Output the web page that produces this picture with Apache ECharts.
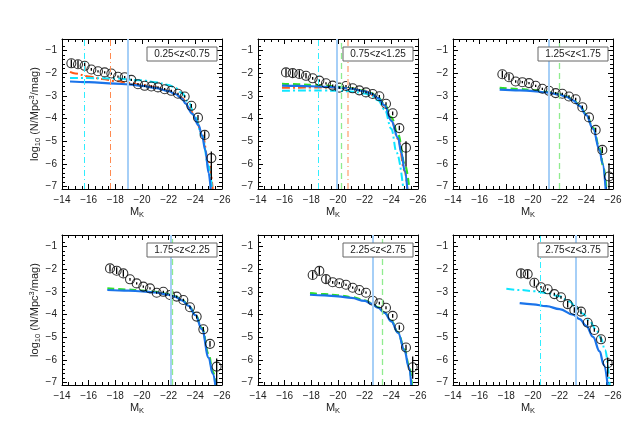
<!DOCTYPE html>
<html>
<head>
<meta charset="utf-8">
<title>K-band luminosity functions</title>
<script src="https://cdn.jsdelivr.net/npm/echarts@6/dist/echarts.min.js"></script>
<style>
  html, body { margin: 0; background: #fff; }
  #main { width: 635px; height: 434px; }
</style>
</head>
<body>
<div id="main"></div>
<script>
// ---- data ----
var xTicks = [-26, -24, -22, -20, -18, -16, -14];
var yTicks = [-7, -6, -5, -4, -3, -2, -1];

// panel 1 : 0.25<z<0.75
var label1 = '0.25<z<0.75';
var mag1 = [-14.7,-15.2,-15.7,-16.2,-16.7,-17.2,-17.7,-18.2,-18.7,-19.2,-19.7,-20.2,-20.7,-21.2,-21.7,-22.2,-22.7,-23.2,-23.7,-24.2,-24.7,-25.2];
var phi1 = [-1.57,-1.61,-1.68,-1.84,-1.92,-1.97,-2.02,-2.16,-2.18,-2.30,-2.49,-2.56,-2.59,-2.63,-2.71,-2.78,-2.91,-3.03,-3.44,-3.96,-4.72,-5.74];
var errUp1 = [0.17,0.17,0.15,0.06,0.05,0.05,0.05,0.05,0.05,0.05,0.05,0.05,0.05,0.05,0.05,0.05,0.05,0.06,0.08,0.12,0.16,0.29];
var errDn1 = [0.17,0.17,0.15,0.06,0.05,0.05,0.05,0.05,0.05,0.05,0.05,0.05,0.05,0.05,0.05,0.05,0.05,0.06,0.08,0.12,0.16,0.96];
var blue1 = [[-14.6,-2.37],[-16,-2.40],[-18,-2.46],[-19,-2.50],[-20,-2.56],[-21,-2.65],[-22,-2.79],[-22.5,-2.92],[-23,-3.12],[-23.25,-3.33],[-23.75,-3.78],[-24.25,-4.30],[-24.5,-4.75],[-24.75,-5.40],[-25,-6.40],[-25.15,-7.1]];
var orange1 = [[-14.6,-1.95],[-15,-2.02],[-16,-2.15],[-17,-2.26],[-18,-2.35],[-19,-2.43],[-20,-2.52],[-21,-2.62],[-22,-2.78],[-22.5,-2.90],[-23,-3.10],[-23.5,-3.45],[-24,-3.98],[-24.5,-4.65],[-25,-5.90],[-25.3,-7.1]];
var cyan1 = [[-14.6,-2.22],[-16,-2.22],[-18,-2.24],[-20,-2.32],[-21,-2.40],[-22,-2.52],[-22.5,-2.65],[-23,-2.88],[-23.5,-3.30],[-24,-3.95],[-24.5,-4.75],[-25,-6.10],[-25.25,-7.1]];
var vBlue1 = -18.9, vOrange1 = -17.6, vCyan1 = -15.7;

// panel 2 : 0.75<z<1.25
var label2 = '0.75<z<1.25';
var mag2 = [-16.1,-16.6,-17.1,-17.6,-18.1,-18.6,-19.1,-19.6,-20.1,-20.6,-21.1,-21.6,-22.1,-22.6,-23.1,-23.6,-24.1,-24.6,-25.1];
var phi2 = [-1.97,-2.00,-2.04,-2.12,-2.23,-2.33,-2.45,-2.55,-2.64,-2.57,-2.67,-2.76,-2.85,-2.92,-3.02,-3.35,-3.77,-4.42,-5.28];
var errUp2 = [0.17,0.17,0.17,0.12,0.06,0.05,0.05,0.05,0.05,0.05,0.05,0.05,0.05,0.05,0.06,0.07,0.08,0.10,0.28];
var errDn2 = [0.17,0.17,0.17,0.12,0.06,0.05,0.05,0.05,0.05,0.05,0.05,0.05,0.05,0.05,0.06,0.07,0.08,0.10,0.84];
var blue2 = [[-15.8,-2.55],[-17,-2.56],[-18,-2.58],[-19,-2.60],[-20,-2.64],[-21,-2.69],[-22,-2.80],[-22.5,-2.90],[-23,-3.10],[-23.5,-3.42],[-24,-4.10],[-24.5,-4.85],[-24.75,-5.50],[-25,-6.30],[-25.2,-7.1]];
var green2 = [[-15.8,-2.47],[-17,-2.49],[-18,-2.52],[-19,-2.55],[-20,-2.60],[-21,-2.67],[-22,-2.78],[-22.5,-2.88],[-23,-3.07],[-23.5,-3.38],[-24,-3.95],[-24.5,-4.70],[-25,-6.00],[-25.35,-7.1]];
var cyan2 = [[-15.8,-2.78],[-17,-2.77],[-18,-2.77],[-19,-2.77],[-20,-2.78],[-21,-2.81],[-22,-2.90],[-22.5,-3.00],[-23,-3.20],[-23.5,-3.60],[-24,-4.45],[-24.4,-5.50],[-24.9,-7.1]];
var orange2 = [[-15.8,-2.65],[-17,-2.64],[-18,-2.63],[-19,-2.63],[-20,-2.64],[-21,-2.68],[-22,-2.79],[-23,-3.10],[-23.5,-3.43],[-24,-4.05],[-24.5,-4.90],[-25,-6.30],[-25.2,-7.1]];
var vCyan2 = -18.5, vBlue2 = -19.9, vGreen2 = -20.25, vOrange2 = -20.7;

// panel 3 : 1.25<z<1.75
var label3 = '1.25<z<1.75';
var mag3 = [-17.7,-18.2,-18.7,-19.2,-19.7,-20.2,-20.7,-21.2,-21.7,-22.2,-22.7,-23.2,-23.7,-24.2,-24.7,-25.2,-25.7];
var phi3 = [-2.05,-2.18,-2.37,-2.40,-2.44,-2.56,-2.69,-2.78,-2.88,-2.91,-3.03,-3.15,-3.50,-3.95,-4.50,-5.38,-6.55];
var errUp3 = [0.15,0.15,0.06,0.05,0.05,0.05,0.05,0.05,0.05,0.05,0.05,0.06,0.07,0.08,0.10,0.14,0.58];
var errDn3 = [0.15,0.15,0.06,0.05,0.05,0.05,0.05,0.05,0.05,0.05,0.05,0.06,0.07,0.08,0.10,0.14,0.60];
var blue3 = [[-17.5,-2.73],[-19,-2.76],[-20,-2.79],[-21,-2.85],[-22,-2.95],[-22.5,-3.04],[-23,-3.20],[-23.5,-3.45],[-24,-3.85],[-24.5,-4.45],[-25,-5.40],[-25.2,-5.95],[-25.45,-7.1]];
var green3 = [[-17.5,-2.65],[-19,-2.70],[-20,-2.75],[-21,-2.82],[-22,-2.93],[-22.5,-3.02],[-23,-3.18],[-23.5,-3.42],[-24,-3.82],[-24.5,-4.40],[-25,-5.30],[-25.3,-6.20],[-25.5,-7.1]];
var vBlue3 = -21.17, vGreen3 = -22.0;

// panel 4 : 1.75<z<2.25
var label4 = '1.75<z<2.25';
var mag4 = [-17.6,-18.1,-18.6,-19.1,-19.6,-20.1,-20.6,-21.1,-21.6,-22.1,-22.6,-23.1,-23.6,-24.1,-24.6,-25.1,-25.6];
var phi4 = [-1.97,-2.07,-2.19,-2.45,-2.63,-2.77,-2.85,-3.04,-3.00,-3.14,-3.21,-3.36,-3.68,-4.09,-4.65,-5.29,-6.29];
var errUp4 = [0.15,0.15,0.15,0.06,0.05,0.05,0.05,0.05,0.05,0.05,0.05,0.06,0.07,0.08,0.10,0.13,0.36];
var errDn4 = [0.15,0.15,0.15,0.06,0.05,0.05,0.05,0.05,0.05,0.05,0.05,0.06,0.07,0.08,0.10,0.13,0.81];
var blue4 = [[-17.4,-2.92],[-19,-2.95],[-20,-2.98],[-21,-3.03],[-22,-3.13],[-22.5,-3.22],[-23,-3.38],[-23.5,-3.62],[-24,-4.02],[-24.5,-4.65],[-25,-5.90],[-25.3,-6.60],[-25.5,-7.1]];
var green4 = [[-17.4,-2.85],[-19,-2.90],[-20,-2.95],[-21,-3.00],[-22,-3.10],[-22.5,-3.20],[-23,-3.35],[-23.5,-3.60],[-24,-4.00],[-24.5,-4.60],[-25,-5.75],[-25.3,-6.50],[-25.55,-7.1]];
var vBlue4 = -22.15, vGreen4 = -22.25;

// panel 5 : 2.25<z<2.75
var label5 = '2.25<z<2.75';
var mag5 = [-18.1,-18.6,-19.1,-19.6,-20.1,-20.6,-21.1,-21.6,-22.1,-22.6,-23.1,-23.6,-24.1,-24.6,-25.1,-25.6];
var phi5 = [-2.26,-2.08,-2.44,-2.58,-2.62,-2.69,-2.82,-2.92,-3.04,-3.39,-3.50,-3.70,-4.06,-4.57,-5.45,-6.32];
var errUp5 = [0.17,0.17,0.17,0.06,0.05,0.05,0.05,0.05,0.05,0.05,0.06,0.07,0.08,0.10,0.12,0.47];
var errDn5 = [0.17,0.17,0.17,0.06,0.05,0.05,0.05,0.05,0.05,0.05,0.06,0.07,0.08,0.10,0.12,0.50];
var blue5 = [[-17.9,-3.13],[-19,-3.16],[-20,-3.20],[-21,-3.27],[-22,-3.40],[-22.5,-3.52],[-23,-3.70],[-23.5,-3.93],[-24,-4.30],[-24.5,-4.80],[-25,-5.60],[-25.3,-6.30],[-25.5,-7.1]];
var green5 = [[-17.9,-3.06],[-19,-3.10],[-20,-3.15],[-21,-3.23],[-22,-3.37],[-22.5,-3.50],[-23,-3.68],[-23.5,-3.92],[-24,-4.28],[-24.5,-4.78],[-25,-5.55],[-25.3,-6.20],[-25.55,-7.1]];
var vBlue5 = -22.6, vGreen5 = -23.3;

// panel 6 : 2.75<z<3.75
var label6 = '2.75<z<3.75';
var mag6 = [-19.1,-19.6,-20.1,-20.6,-21.1,-21.6,-22.1,-22.6,-23.1,-23.6,-24.1,-24.6,-25.1,-25.6];
var phi6 = [-2.19,-2.22,-2.60,-2.80,-2.89,-3.10,-3.24,-3.54,-3.80,-3.87,-4.36,-4.68,-5.09,-6.14];
var errUp6 = [0.17,0.17,0.15,0.06,0.05,0.06,0.06,0.15,0.12,0.12,0.12,0.08,0.12,0.25];
var errDn6 = [0.17,0.17,0.15,0.06,0.05,0.06,0.06,0.15,0.12,0.12,0.12,0.08,0.12,0.60];
var blue6 = [[-19,-3.50],[-20,-3.55],[-21,-3.63],[-22,-3.76],[-23,-4.00],[-23.5,-4.20],[-24,-4.50],[-24.5,-4.98],[-25,-5.62],[-25.3,-6.20],[-25.6,-7.1]];
var cyan6 = [[-18,-2.87],[-19,-2.92],[-20,-2.97],[-21,-3.05],[-22,-3.20],[-22.75,-3.43],[-23.25,-3.70],[-23.75,-3.96],[-24.25,-4.30],[-24.75,-4.68],[-25.1,-5.05],[-25.4,-5.56],[-25.75,-7.1]];
var vCyan6 = -20.55, vBlue6 = -23.2;

// ---- styles ----
var FONT = 'Liberation Sans';
var CURVE = {
  blue:   { color: '#1a74ea', width: 2.2, type: 'solid' },
  orange: { color: '#ff5a18', width: 2,   type: [8, 3, 2, 3] },
  cyan:   { color: '#10e6ff', width: 2,   type: [8, 3, 2, 3] },
  green:  { color: '#2fe02a', width: 2.2, type: [7, 4] }
};
var VLINE = {
  blue:   { color: '#a6cff7', width: 2,   type: 'solid' },
  orange: { color: '#ff8a50', width: 1,   type: [6, 3, 1, 3] },
  salmon: { color: '#ffc4a6', width: 2,   type: [6, 3, 1, 3] },
  cyan:   { color: '#30eeff', width: 1,   type: [6, 3, 1, 3] },
  green:  { color: '#8fec8f', width: 1.3, type: [6, 4] }
};

var panels = [
  { label: label1, mag: mag1, phi: phi1, up: errUp1, dn: errDn1,
    curves: [[orange1, 'orange'], [cyan1, 'cyan'], [blue1, 'blue']],
    verts: [[vCyan1, 'cyan'], [vOrange1, 'orange'], [vBlue1, 'blue']] },
  { label: label2, mag: mag2, phi: phi2, up: errUp2, dn: errDn2,
    curves: [[orange2, 'orange'], [cyan2, 'cyan'], [green2, 'green'], [blue2, 'blue']],
    verts: [[vCyan2, 'cyan'], [vBlue2, 'blue'], [vGreen2, 'green'], [vOrange2, 'salmon']] },
  { label: label3, mag: mag3, phi: phi3, up: errUp3, dn: errDn3,
    curves: [[green3, 'green'], [blue3, 'blue']],
    verts: [[vBlue3, 'blue'], [vGreen3, 'green']] },
  { label: label4, mag: mag4, phi: phi4, up: errUp4, dn: errDn4,
    curves: [[green4, 'green'], [blue4, 'blue']],
    verts: [[vBlue4, 'blue'], [vGreen4, 'green']] },
  { label: label5, mag: mag5, phi: phi5, up: errUp5, dn: errDn5,
    curves: [[green5, 'green'], [blue5, 'blue']],
    verts: [[vBlue5, 'blue'], [vGreen5, 'green']] },
  { label: label6, mag: mag6, phi: phi6, up: errUp6, dn: errDn6,
    curves: [[cyan6, 'cyan'], [blue6, 'blue']],
    verts: [[vCyan6, 'cyan'], [vBlue6, 'blue']] }
];

var yMinor = [];
for (var t = -7; t <= -0.6; t += 0.2) yMinor.push(Math.round(t * 10) / 10);

function minus(v) { return v < 0 ? '\u2212' + Math.abs(v) : String(v); }

var gridLefts = [62, 258, 453];
var gridTops = [39, 235];
var W = 160, H = 150;

var grids = [], xAxes = [], yAxes = [], series = [], graphics = [];
var axisLine = { show: true, onZero: false, lineStyle: { color: '#000', width: 1 } };
var labelStyle = { color: '#222', fontSize: 10, fontFamily: FONT };
var txt = { fontSize: 11, fontFamily: FONT, color: '#222' };
var small = { fontSize: 7.5, fontFamily: FONT, color: '#222' };

panels.forEach(function (p, i) {
  var left = gridLefts[i % 3], top = gridTops[Math.floor(i / 3)];
  grids.push({ left: left, top: top, width: W, height: H });

  // x axes (bottom with labels, top ticks only)
  ['bottom', 'top'].forEach(function (pos) {
    xAxes.push({
      gridIndex: i, type: 'value', position: pos, inverse: true,
      min: -26, max: -14, interval: 2,
      axisLine: axisLine,
      axisTick: { show: true, inside: true, length: 5, lineStyle: { color: '#000' } },
      minorTick: { show: true, splitNumber: 4, length: 3, lineStyle: { color: '#000' } },
      splitLine: { show: false },
      axisLabel: pos === 'bottom'
        ? Object.assign({ show: true, margin: 6, formatter: minus }, labelStyle)
        : { show: false },
      name: pos === 'bottom' ? '{n|M}{sub|K}' : '',
      nameLocation: 'middle', nameGap: 16,
      nameTextStyle: {
        color: '#222', fontSize: 11, fontFamily: FONT, padding: [0, 10, 0, 0],
        rich: { n: txt, sub: Object.assign({ padding: [6, 0, 0, 0] }, small) }
      }
    });
  });

  // y axes: left labelled major, left minor, right major, right minor
  ['left', 'right'].forEach(function (pos) {
    var first = pos === 'left' && i % 3 === 0;
    yAxes.push({
      gridIndex: i, type: 'value', position: pos, min: -7.1, max: -0.5,
      axisLine: axisLine,
      axisTick: { show: true, inside: true, length: 5, customValues: yTicks, lineStyle: { color: '#000' } },
      splitLine: { show: false },
      axisLabel: pos === 'left'
        ? Object.assign({ show: true, margin: 5, customValues: yTicks, formatter: minus }, labelStyle)
        : { show: false },
      name: first ? '{n|log}{sub|10}{n| (N/Mpc}{sup|3}{n|/mag)}' : '',
      nameLocation: 'middle', nameGap: 18, nameRotate: 90,
      nameTextStyle: {
        color: '#222', fontSize: 11, fontFamily: FONT,
        rich: {
          n: txt,
          sub: Object.assign({ padding: [6, 0, 0, 0] }, small),
          sup: Object.assign({ padding: [0, 0, 6, 0] }, small)
        }
      }
    });
    yAxes.push({
      gridIndex: i, type: 'value', position: pos, min: -7.1, max: -0.5,
      axisLine: { show: false },
      axisTick: { show: true, inside: true, length: 3, customValues: yMinor, lineStyle: { color: '#000' } },
      splitLine: { show: false },
      axisLabel: { show: false }
    });
  });

  var xi = 2 * i, yi = 4 * i;

  // vertical reference lines
  series.push({
    type: 'line', xAxisIndex: xi, yAxisIndex: yi, data: [], silent: true, z: 1,
    markLine: {
      silent: true, symbol: 'none', animation: false, label: { show: false },
      data: p.verts.map(function (v) {
        var s = VLINE[v[1]];
        return { xAxis: v[0], lineStyle: { color: s.color, width: s.width, type: s.type } };
      })
    }
  });

  // model curves
  p.curves.forEach(function (c) {
    var s = CURVE[c[1]];
    series.push({
      type: 'line', xAxisIndex: xi, yAxisIndex: yi, data: c[0], z: 2,
      showSymbol: false, smooth: 0.4, smoothMonotone: 'x', silent: true,
      lineStyle: { color: s.color, width: s.width, type: s.type }
    });
  });

  // error bars
  series.push({
    type: 'custom', xAxisIndex: xi, yAxisIndex: yi, z: 3, silent: true, clip: true,
    data: p.mag.map(function (m, k) { return [m, p.phi[k] + p.up[k], p.phi[k] - p.dn[k]]; }),
    renderItem: function (params, api) {
      var a = api.coord([api.value(0), api.value(1)]);
      var b = api.coord([api.value(0), api.value(2)]);
      return { type: 'line', shape: { x1: a[0], y1: a[1], x2: b[0], y2: b[1] },
               style: { stroke: '#000', lineWidth: 1.3 } };
    }
  });

  // data points (open circles)
  series.push({
    type: 'scatter', xAxisIndex: xi, yAxisIndex: yi, z: 4, silent: true,
    data: p.mag.map(function (m, k) { return [m, p.phi[k]]; }),
    symbol: 'circle', symbolSize: 9,
    itemStyle: { color: 'rgba(0,0,0,0)', borderColor: '#000', borderWidth: 1.1 }
  });

  // redshift label box
  graphics.push({
    type: 'rect', shape: { x: left + 85, y: top + 8, width: 70, height: 14 },
    style: { fill: '#fff', stroke: '#666', lineWidth: 1 }, z: 10
  });
  graphics.push({
    type: 'text', x: left + 120, y: top + 15, z: 11,
    style: { text: p.label, fontSize: 10, fontFamily: FONT, fill: '#222', align: 'center', verticalAlign: 'middle' }
  });
});

var chart = echarts.init(document.getElementById('main'), null, { renderer: 'canvas' });
chart.setOption({
  backgroundColor: '#fff',
  animation: false,
  grid: grids,
  xAxis: xAxes,
  yAxis: yAxes,
  series: series,
  graphic: graphics
});
</script>
</body>
</html>
